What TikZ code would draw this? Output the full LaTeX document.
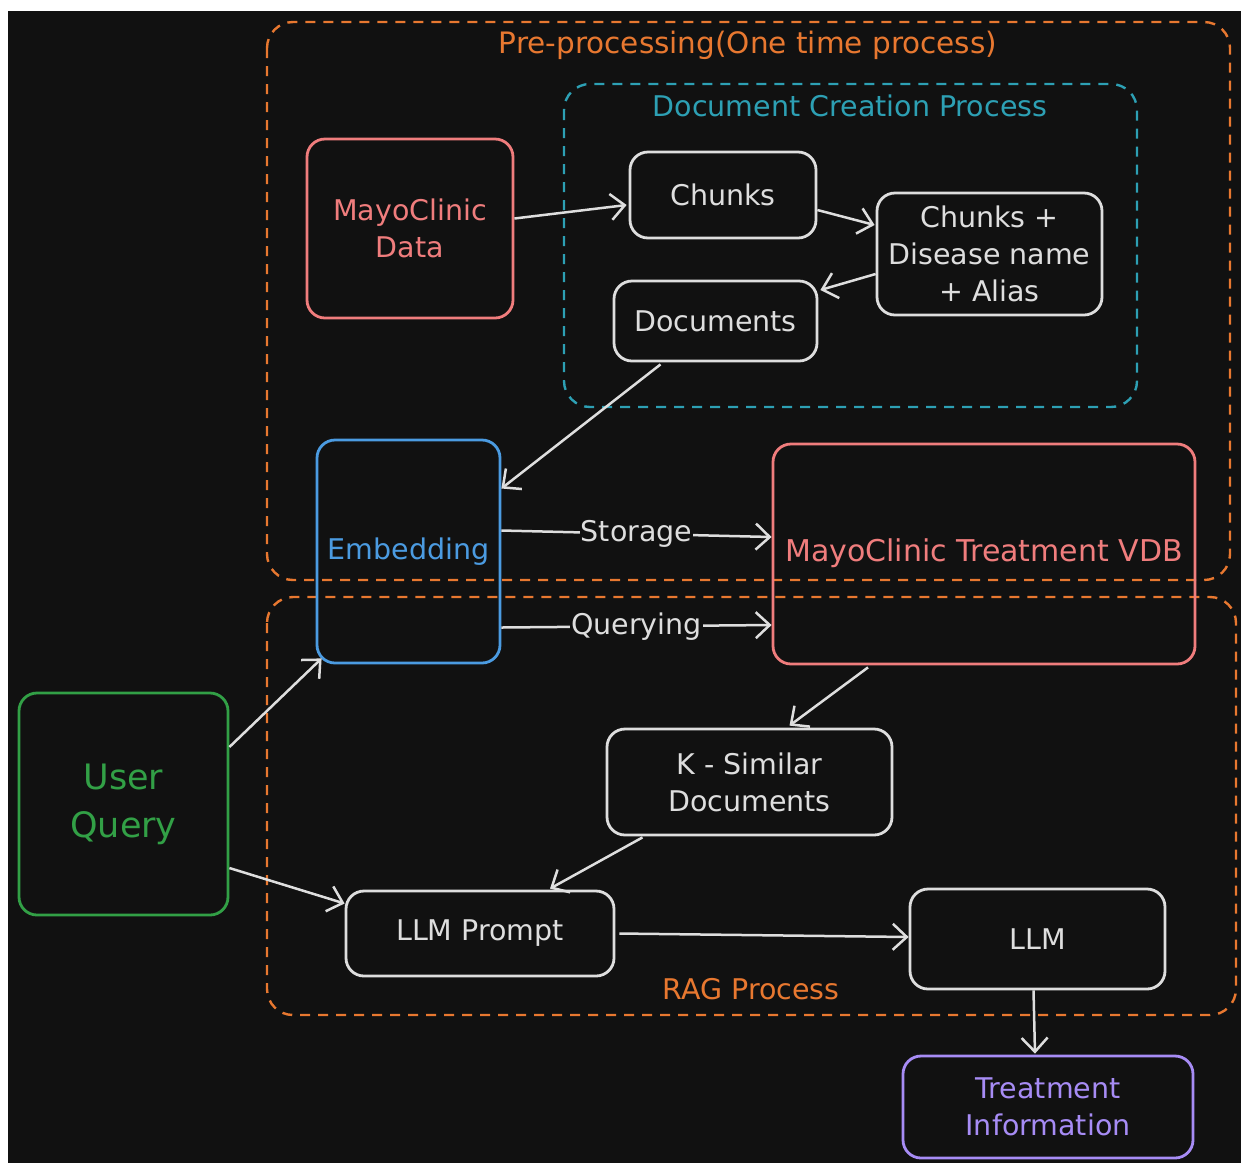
\documentclass[tikz,border=0pt]{standalone}
\usepackage{fontspec}
\setmainfont{DejaVu Sans}
\usetikzlibrary{arrows.meta,calc}
\definecolor{bg}{HTML}{111111}
\definecolor{ora}{RGB}{232,120,48}
\definecolor{teal}{RGB}{45,160,180}
\definecolor{redc}{RGB}{240,125,125}
\definecolor{bluec}{RGB}{75,155,225}
\definecolor{greenc}{RGB}{50,160,70}
\definecolor{purp}{RGB}{167,140,245}
\definecolor{wht}{RGB}{222,222,222}
\tikzset{
  txt/.style={font=\fontsize{28.5}{37}\selectfont, align=center},
  box/.style={draw=#1, text=#1, line width=2.8pt, rounded corners=18pt, inner sep=0pt, txt},
  grp/.style={draw=#1, dashed, dash pattern=on 10pt off 8pt, line width=2.4pt, rounded corners=26pt},
  arr/.style={draw=wht, line width=2.5pt, -{Straight Barb[length=14pt,width=26pt,line width=2.5pt]}},
  elab/.style={fill=bg, text=wht, inner sep=1pt, txt}
}
\begin{document}
\begin{tikzpicture}[x=1pt,y=-1pt]
\useasboundingbox (0,0) rectangle (1241,1163);
\fill[white] (0,0) rectangle (1241,1163);
\fill[bg] (8,11) rectangle (1241,1163);

% groups
\draw[grp=ora] (267,22) rectangle (1230,580);
\draw[grp=teal] (564,84) rectangle (1137,407);
\draw[grp=ora] (267,597) rectangle (1236,1015);
\node[txt, text=ora, font=\fontsize{29.5}{37}\selectfont] (lpre) at (748,45) {Pre-processing(One time process)};
\node[txt, text=teal] (ldoc) at (850,106) {Document Creation Process};
\node[txt, text=ora] (lrag) at (751,989) {RAG Process};

% nodes
\node[box=redc, minimum width=206pt, minimum height=179pt] (data) at (410,228.5) {MayoClinic\\Data};
\node[box=wht, minimum width=186pt, minimum height=86pt] (chunks) at (723,195) {Chunks};
\node[box=wht, minimum width=225pt, minimum height=122pt] (chp) at (989.5,254) {Chunks +\\Disease name\\+ Alias};
\node[box=wht, minimum width=203pt, minimum height=80pt] (docs) at (715.5,321) {Documents};
\node[box=bluec, minimum width=183pt, minimum height=223pt] (emb) at (408.5,551.5) {Embedding};
\node[box=redc, minimum width=422pt, minimum height=220pt] (vdb) at (984,554) {};
\node[txt, text=redc, font=\fontsize{30}{37}\selectfont] (vdbt) at (984,553) {MayoClinic Treatment VDB};
\node[box=greenc, minimum width=209pt, minimum height=222pt, font=\fontsize{35}{48}\selectfont] (uq) at (123.5,804) {User\\Query};
\node[box=wht, minimum width=285pt, minimum height=106pt] (ksim) at (749.5,782) {K - Similar\\Documents};
\node[box=wht, minimum width=268pt, minimum height=85pt] (prompt) at (480,933.5) {LLM Prompt};
\node[box=wht, minimum width=255pt, minimum height=100pt] (llm) at (1037.5,939) {LLM};
\node[box=purp, minimum width=290pt, minimum height=102pt] (treat) at (1048,1107) {Treatment\\Information};

% connectors
\draw[arr] ($(data.east)+(0,-10)$) -- ($(chunks.west)+(-2,10)$);
\draw[arr] ($(chunks.east)+(0,15)$) -- ($(chp.west)+(-1,-29)$);
\draw[arr] ($(chp.west)+(0,20)$) -- ($(docs.east)+(2,-31)$);
\draw[arr] ($(docs.south)+(-55,2)$) -- ($(emb.east)+(0,-63)$);
\draw[arr] ($(emb.east)+(0,-21)$) -- node[elab] (lsto) {Storage} ($(vdb.west)+(0,-17)$);
\draw[arr] ($(emb.east)+(0,76)$) -- node[elab] (lque) {Querying} ($(vdb.west)+(0,71)$);
\draw[arr] ($(vdb.south)+(-116,2)$) -- ($(ksim.north)+(40,-2)$);
\draw[arr] ($(ksim.south)+(-107,1)$) -- ($(prompt.north)+(70,-1)$);
\draw[arr] ($(uq.east)+(0,-57)$) -- ($(emb.south west)+(6,-6)$);
\draw[arr] ($(uq.east)+(0,64)$) -- ($(prompt.west)+(0,-30)$);
\draw[arr] ($(prompt.east)+(4,0)$) -- ($(llm.west)+(0,-2)$);
\draw[arr] ($(llm.south)+(-4,0)$) -- ($(treat.north)+(-13,-1)$);
\end{tikzpicture}
\end{document}
